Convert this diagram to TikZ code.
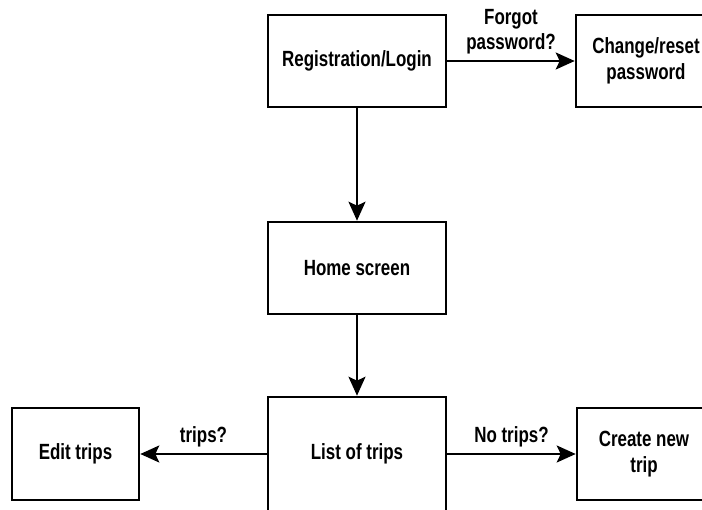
\documentclass[tikz,border=0pt]{standalone}
\usepackage{fontspec}
\setmainfont{Liberation Sans}[FakeStretch=0.77]
\usetikzlibrary{arrows.meta}
\tikzset{
  box/.style={draw=black, line width=2.6pt, fill=white, align=center,
    font=\fontsize{22}{26}\selectfont\bfseries, inner sep=0pt},
  conn/.style={line width=2.2pt, -{Stealth[length=19pt,width=17pt,inset=4pt]}},
  lbl/.style={font=\fontsize{22}{25}\selectfont\bfseries, align=center, inner sep=6pt}
}
\begin{document}
\begin{tikzpicture}[x=1pt,y=-1pt]
\useasboundingbox (0,0) rectangle (702,510);
\clip (0,0) rectangle (702,510);
\fill[white] (0,0) rectangle (702,510);
\node[box, minimum width=178pt, minimum height=92pt] (reg) at (357,61) {Registration/Login};
\node[box, minimum width=140pt, minimum height=92pt] (chg) at (646,61) {Change/reset\\password};
\node[box, minimum width=178pt, minimum height=92pt] (home) at (357,268) {Home screen};
\node[box, minimum width=178pt, minimum height=114pt] (list) at (357,454) {List of trips};
\node[box, minimum width=127pt, minimum height=92pt] (edit) at (75.5,454) {Edit trips};
\node[box, minimum width=134pt, minimum height=92pt] (new) at (644,454) {Create new\\trip};
\draw[conn] (reg.east) -- node[lbl, above] {Forgot\\password?} (chg.west);
\draw[conn] (reg.south) -- (home.north);
\draw[conn] (home.south) -- (list.north);
\draw[conn] (list.west) -- node[lbl, above] {trips?} (edit.east);
\draw[conn] (list.east) -- node[lbl, above] {No trips?} (new.west);
\end{tikzpicture}
\end{document}
